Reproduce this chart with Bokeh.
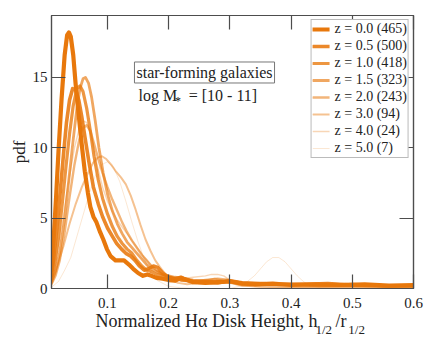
from bokeh.plotting import figure
from bokeh.models import Label, LinearAxis, Legend, LegendItem, FixedTicker, Range1d
from bokeh.embed import file_html
from bokeh.resources import INLINE

# ---------------- data ----------------
labels = ["z = 0.0 (465)", "z = 0.5 (500)", "z = 1.0 (418)", "z = 1.5 (323)",
          "z = 2.0 (243)", "z = 3.0 (94)", "z = 4.0 (24)", "z = 5.0 (7)"]

x_z00 = [0.0085, 0.012, 0.016, 0.02, 0.025, 0.03, 0.034, 0.037, 0.040, 0.044, 0.048, 0.053, 0.058, 0.063, 0.068, 0.072,
         0.077, 0.082, 0.088, 0.093, 0.099, 0.105, 0.113, 0.12, 0.127, 0.135, 0.142, 0.15, 0.158, 0.165, 0.172, 0.18,
         0.19, 0.2, 0.21, 0.22, 0.23, 0.24, 0.26, 0.28, 0.3, 0.32, 0.34, 0.37, 0.4, 0.44, 0.48, 0.52, 0.56, 0.6]
y_z00 = [1.3, 3.5, 6.5, 9.8, 13.5, 16.6, 18.0, 18.2, 17.9, 16.6, 14.5, 12.3, 10.2, 8.3, 6.8, 5.8,
         5.1, 4.7, 4.0, 3.5, 2.8, 2.3, 2.0, 2.0, 2.0, 1.7, 1.4, 1.1, 0.9, 1.0, 0.9, 0.75,
         0.7, 0.6, 0.55, 0.75, 0.6, 0.45, 0.4, 0.45, 0.5, 0.35, 0.3, 0.35, 0.25, 0.3, 0.25, 0.3, 0.2, 0.25]

x_z05 = [0.0085, 0.013, 0.018, 0.023, 0.028, 0.033, 0.038, 0.043, 0.048, 0.053, 0.058, 0.063, 0.07, 0.077, 0.085,
         0.092, 0.1, 0.108, 0.115, 0.123, 0.13, 0.138, 0.145, 0.152, 0.16, 0.167, 0.175, 0.182, 0.19, 0.2, 0.21,
         0.22, 0.23, 0.24, 0.26, 0.28, 0.3, 0.32, 0.35, 0.38, 0.42, 0.46, 0.5, 0.55, 0.6]
y_z05 = [0.9, 2.5, 4.6, 7.0, 9.5, 11.8, 13.4, 14.2, 14.1, 13.4, 12.2, 10.8, 8.9, 7.2, 6.0,
         5.1, 4.3, 3.7, 3.2, 2.8, 2.5, 2.3, 2.0, 1.6, 1.3, 1.4, 1.6, 1.5, 1.1, 0.8, 0.7,
         0.8, 0.6, 0.5, 0.45, 0.4, 0.55, 0.4, 0.35, 0.3, 0.3, 0.35, 0.25, 0.2, 0.2]

x_z10 = [0.0085, 0.014, 0.02, 0.026, 0.032, 0.038, 0.044, 0.05, 0.055, 0.06, 0.066, 0.072, 0.078, 0.085, 0.092,
         0.1, 0.108, 0.116, 0.124, 0.132, 0.14, 0.148, 0.156, 0.164, 0.172, 0.18, 0.19, 0.2, 0.21, 0.22, 0.23,
         0.24, 0.26, 0.28, 0.3, 0.32, 0.35, 0.38, 0.42, 0.46, 0.5, 0.55, 0.6]
y_z10 = [0.6, 1.8, 3.6, 6.0, 8.6, 11.0, 13.0, 14.2, 14.4, 14.0, 12.8, 11.2, 9.4, 7.7, 6.4,
         5.3, 4.4, 3.7, 3.2, 2.8, 2.5, 2.0, 1.6, 1.3, 1.2, 1.0, 0.9, 0.8, 0.7, 0.6, 0.55,
         0.5, 0.55, 0.45, 0.5, 0.35, 0.3, 0.3, 0.3, 0.25, 0.3, 0.2, 0.2]

x_z15 = [0.0085, 0.015, 0.022, 0.03, 0.037, 0.044, 0.05, 0.055, 0.06, 0.064, 0.069, 0.074, 0.08, 0.086, 0.093,
         0.1, 0.108, 0.116, 0.124, 0.132, 0.14, 0.148, 0.156, 0.164, 0.172, 0.18, 0.19, 0.2, 0.21, 0.22,
         0.24, 0.26, 0.28, 0.3, 0.32, 0.35, 0.38, 0.42, 0.46, 0.5, 0.55, 0.6]
y_z15 = [0.4, 1.2, 2.6, 5.0, 7.8, 10.6, 12.8, 14.2, 14.9, 15.0, 14.6, 13.6, 11.9, 10.0, 8.2,
         6.7, 5.5, 4.6, 3.9, 3.3, 2.9, 2.5, 2.1, 1.7, 1.4, 1.2, 1.0, 0.9, 0.8, 0.75,
         0.6, 0.5, 0.45, 0.5, 0.4, 0.35, 0.3, 0.3, 0.25, 0.25, 0.2, 0.2]

x_z20 = [0.0085, 0.015, 0.022, 0.03, 0.038, 0.046, 0.054, 0.06, 0.066, 0.072, 0.078, 0.085, 0.092, 0.1, 0.108,
         0.116, 0.124, 0.132, 0.14, 0.148, 0.156, 0.164, 0.172, 0.18, 0.19, 0.2, 0.21, 0.22, 0.24, 0.26,
         0.28, 0.3, 0.32, 0.35, 0.38, 0.42, 0.46, 0.5, 0.55, 0.6]
y_z20 = [0.3, 0.9, 2.0, 4.0, 6.5, 8.8, 10.6, 11.4, 11.6, 11.2, 10.3, 9.2, 8.2, 7.2, 6.3,
         5.5, 4.7, 4.0, 3.4, 2.9, 2.4, 2.0, 1.6, 1.3, 1.0, 0.8, 0.7, 0.6, 0.5, 0.6,
         0.7, 0.6, 0.4, 0.3, 0.3, 0.25, 0.2, 0.2, 0.15, 0.15]

x_z30 = [0.0085, 0.018, 0.028, 0.038, 0.048, 0.058, 0.068, 0.076, 0.084, 0.091, 0.098, 0.106, 0.114, 0.122, 0.13,
         0.138, 0.146, 0.154, 0.162, 0.17, 0.178, 0.186, 0.195, 0.205, 0.215, 0.23, 0.25, 0.265, 0.275, 0.285,
         0.3, 0.32, 0.35, 0.4, 0.45, 0.5, 0.55, 0.6]
y_z30 = [0.5, 1.6, 3.0, 4.6, 6.0, 7.2, 8.2, 8.9, 9.3, 9.4, 9.2, 8.8, 8.3, 7.9, 7.4,
         6.6, 5.6, 4.5, 3.5, 2.7, 2.0, 1.5, 1.0, 0.6, 0.4, 0.3, 0.4, 0.6, 0.7, 0.6,
         0.4, 0.2, 0.15, 0.1, 0.1, 0.1, 0.05, 0.05]

x_z40 = [0.0085, 0.018, 0.028, 0.038, 0.046, 0.054, 0.06, 0.066, 0.072, 0.078, 0.085, 0.092, 0.1, 0.11, 0.12,
         0.13, 0.14, 0.15, 0.16, 0.17, 0.18, 0.19, 0.2, 0.21, 0.22, 0.24, 0.26, 0.27, 0.28, 0.29, 0.3, 0.31,
         0.32, 0.35, 0.4, 0.45, 0.5, 0.55, 0.6]
y_z40 = [0.8, 2.6, 5.2, 8.0, 10.0, 11.4, 11.9, 11.8, 11.0, 9.8, 8.4, 7.2, 6.2, 5.3, 4.6,
         4.0, 3.4, 2.8, 2.2, 1.7, 1.3, 1.0, 0.8, 0.7, 0.7, 0.8, 0.9, 1.0, 1.0, 0.9, 0.6, 0.3,
         0.2, 0.1, 0.05, 0.05, 0.05, 0.05, 0.05]

x_z50 = [0.0085, 0.02, 0.03, 0.04, 0.05, 0.06, 0.07, 0.08, 0.09, 0.1, 0.11, 0.12, 0.13, 0.14, 0.15, 0.16,
         0.17, 0.18, 0.2, 0.22, 0.25, 0.3, 0.32, 0.34, 0.35, 0.36, 0.37, 0.38, 0.39, 0.4, 0.41, 0.42, 0.43,
         0.45, 0.5, 0.55, 0.6]
y_z50 = [0.1, 0.5, 1.3, 2.2, 3.7, 5.2, 6.7, 8.0, 8.8, 9.0, 8.6, 7.6, 6.2, 4.7, 3.3, 2.1,
         1.2, 0.6, 0.15, 0.05, 0.0, 0.0, 0.2, 0.9, 1.4, 1.9, 2.2, 2.2, 1.9, 1.4, 0.9, 0.5, 0.2,
         0.05, 0.0, 0.0, 0.0]

series_x = [x_z00, x_z05, x_z10, x_z15, x_z20, x_z30, x_z40, x_z50]
series_y = [y_z00, y_z05, y_z10, y_z15, y_z20, y_z30, y_z40, y_z50]

x_ticks = [0.1, 0.2, 0.3, 0.4, 0.5, 0.6]
y_ticks = [0, 5, 10, 15]

# ---------------- styles ----------------
ORANGE = "#E8780C"
alphas = [1.0, 0.88, 0.78, 0.65, 0.55, 0.45, 0.3, 0.18]
widths = [4.2, 3.6, 3.2, 2.8, 2.4, 2.0, 1.4, 1.0]
AXC = "#4d4d4d"
TXT = "#222222"
SERIF = "Liberation Serif"
EN = "\u2002"      # en space (0.5 em)
QS = "\u2005"      # four-per-em space

p = figure(width=436, height=337, output_backend="svg", toolbar_location=None,
           x_range=Range1d(0.0085, 0.6), y_range=Range1d(0, 19.4),
           min_border_left=51, min_border_right=23, min_border_top=13, min_border_bottom=49)
p.xgrid.visible = False
p.ygrid.visible = False
p.outline_line_color = AXC
p.outline_line_width = 1.2
p.background_fill_color = "white"

items = []
for xs, ys, lab, a, w in zip(series_x, series_y, labels, alphas, widths):
    r = p.line(xs, ys, line_color=ORANGE, line_alpha=a, line_width=w, line_join="round", line_cap="round")
    items.append(LegendItem(label=lab, renderers=[r]))


def style_axis(ax, show_labels, standoff=4):
    ax.major_tick_in = 14
    ax.major_tick_out = 0
    ax.minor_tick_line_color = None
    ax.axis_line_color = AXC
    ax.axis_line_width = 1.2
    ax.major_tick_line_color = AXC
    ax.major_tick_line_width = 1.2
    ax.major_label_text_font = SERIF
    ax.major_label_text_color = TXT
    if show_labels:
        ax.major_label_text_font_size = "15px"
        ax.major_label_standoff = standoff
    else:
        ax.major_label_text_alpha = 0
        ax.major_label_text_font_size = "1px"
        ax.major_label_standoff = 0


p.xaxis.ticker = FixedTicker(ticks=x_ticks)
p.yaxis.ticker = FixedTicker(ticks=y_ticks)
style_axis(p.xaxis[0], True, standoff=9)
style_axis(p.yaxis[0], True, standoff=4)
p.yaxis.axis_label = "pdf"
p.yaxis.axis_label_text_font = SERIF
p.yaxis.axis_label_text_font_style = "normal"
p.yaxis.axis_label_text_font_size = "17px"
p.yaxis.axis_label_text_color = TXT
p.yaxis.axis_label_standoff = 1

top_ax = LinearAxis(ticker=FixedTicker(ticks=x_ticks))
right_ax = LinearAxis(ticker=FixedTicker(ticks=y_ticks))
style_axis(top_ax, False)
style_axis(right_ax, False)
p.add_layout(top_ax, "above")
p.add_layout(right_ax, "right")

legend = Legend(items=items, location="top_right")
legend.label_text_font = SERIF
legend.label_text_font_size = "14px"
legend.label_text_color = TXT
legend.glyph_width = 17
legend.glyph_height = 14
legend.label_height = 14
legend.spacing = 1
legend.padding = 1
legend.margin = 4
legend.label_standoff = 5
legend.border_line_color = "#777777"
legend.border_line_width = 1.2
legend.background_fill_alpha = 1.0
p.add_layout(legend)


# ---------------- texts ----------------
def dlab(x, y, text, size, **kw):
    l = Label(x=x, y=y, text=text, text_font=SERIF, text_font_size=size, text_color=TXT, **kw)
    p.add_layout(l)
    return l


def slab(x, y, text, size, place, **kw):
    l = Label(x=x, y=y, x_units="screen", y_units="screen", text=text,
              text_font=SERIF, text_font_size=size, text_color=TXT, **kw)
    p.add_layout(l, place)
    return l


dlab(0.2585, 15.35, "star-forming galaxies", "16px", text_align="center", text_baseline="middle",
     border_line_color="#777777", border_line_width=1, padding=2, background_fill_color="white")

dlab(0.1507, 13.73, "log M", "16px", text_baseline="middle")
dlab(0.2105, 13.35, "*", "12px", text_baseline="middle")
dlab(0.2327, 13.73, "= [10 - 11]", "16px", text_baseline="middle")

# x-axis title: main part in the lower panel, subscripts held by the upper panel
slab(44, 10, "Normalized Hα Disk Height, h" + EN * 2 + "/r", "18px", "below", text_baseline="middle")
slab(264, -314, "1/2" + EN * 2 + QS + "1/2", "13px", "above", text_baseline="middle")

open("out.html", "w").write(file_html(p, INLINE))
